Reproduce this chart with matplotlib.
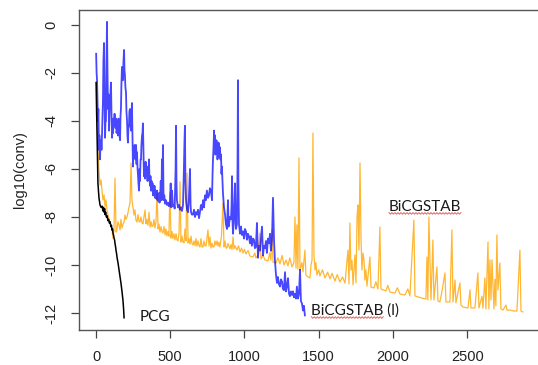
import numpy as np
import matplotlib
matplotlib.use("Agg")
import matplotlib.pyplot as plt
from matplotlib.transforms import IdentityTransform

plt.rcParams["axes.unicode_minus"] = False
plt.rcParams["font.family"] = ["Liberation Sans", "DejaVu Sans"]

# (iteration, log10 residual)
pcg_points = [
    (1, -2.4), (4, -3.6), (7, -4.5), (13, -6.6), (20, -7.2), (27, -7.5),
    (34, -7.6), (41, -7.55), (47, -7.75), (50, -7.6), (54, -7.8), (58, -7.65),
    (61, -7.9), (65, -7.8), (70, -8.0), (75, -7.95), (80, -8.15), (85, -8.1),
    (90, -8.25), (95, -8.2), (100, -8.4), (104, -8.35), (108, -8.55),
    (112, -8.5), (115, -8.7), (118, -8.75), (122, -8.9), (125, -8.95),
    (128, -9.1), (132, -9.25), (135, -9.4), (138, -9.5), (142, -9.7),
    (148, -9.9), (155, -10.2), (162, -10.5), (168, -10.75), (175, -11.1),
    (182, -11.5), (186, -11.85), (189, -12.2),
]

bicgl_points = [
    (1, -1.2), (4, -2.0), (7, -2.3), (10, -3.2), (13, -4.0), (16, -3.5),
    (20, -5.2), (23, -4.6), (27, -5.6), (30, -4.9), (34, -4.8), (37, -5.2),
    (40, -4.7), (44, -3.8), (47, -3.1), (50, -1.5), (54, -0.75), (57, -2.8),
    (61, -4.7), (64, -4.0), (67, -4.0), (70, -2.0), (74, 0.13), (77, -1.8),
    (81, -3.5), (84, -2.9), (88, -4.4), (91, -3.6), (94, -3.1), (97, -2.9),
    (101, -2.4), (104, -3.6), (108, -4.7), (112, -4.2), (115, -4.5),
    (118, -3.9), (121, -4.2), (125, -3.7), (128, -4.0), (132, -4.3),
    (135, -3.9), (138, -4.5), (141, -4.4), (145, -4.0), (148, -4.6),
    (151, -3.9), (155, -4.1), (158, -4.6), (162, -4.8), (165, -3.8),
    (168, -3.5), (171, -2.5), (175, -1.75), (178, -2.3), (182, -2.3),
    (185, -1.5), (189, -1.04), (192, -1.9), (195, -2.1), (198, -2.6),
    (202, -2.8), (205, -3.6), (209, -4.0), (212, -4.6), (215, -4.9),
    (218, -4.3), (222, -4.2), (225, -3.6), (229, -3.5), (232, -4.1),
    (236, -4.4), (239, -3.8), (242, -3.25), (246, -4.8), (249, -5.9),
    (253, -5.2), (256, -5.5), (260, -5.0), (263, -5.2), (266, -5.6),
    (270, -5.0), (273, -5.8), (276, -5.3), (280, -6.0), (283, -6.25),
    (286, -6.6), (290, -6.9), (293, -6.0), (296, -6.5), (300, -5.6),
    (303, -5.6), (306, -5.0), (310, -4.6), (313, -4.5), (316, -4.1),
    (320, -5.5), (323, -6.3), (327, -5.9), (330, -6.4), (334, -5.7),
    (337, -5.8), (340, -6.3), (343, -6.0), (347, -6.5), (350, -5.9),
    (354, -6.2), (357, -5.6), (360, -6.4), (364, -6.7), (367, -6.3),
    (370, -6.9), (374, -6.5), (377, -6.9), (381, -6.6), (384, -7.1),
    (388, -6.8), (391, -7.1), (394, -6.7), (398, -7.2), (401, -6.9),
    (404, -7.0), (408, -7.25), (411, -6.9), (414, -7.3), (418, -7.2),
    (421, -7.35), (424, -7.0), (428, -7.4), (431, -7.3), (436, -6.5),
    (441, -7.3), (444, -5.6), (448, -6.6), (451, -5.0), (455, -7.3),
    (460, -7.1), (465, -7.45), (471, -7.3), (478, -7.5), (485, -7.4),
    (491, -7.55), (498, -7.5), (503, -6.6), (507, -7.6), (512, -6.9),
    (518, -7.55), (525, -7.5), (530, -7.65), (536, -6.0), (539, -4.2),
    (542, -6.5), (545, -7.3), (552, -7.6), (559, -7.5), (565, -7.7),
    (572, -7.6), (579, -7.75), (586, -7.5), (592, -6.0), (596, -4.8),
    (599, -4.2), (602, -6.5), (606, -7.3), (613, -7.7), (620, -7.8),
    (626, -7.2), (633, -6.0), (637, -7.5), (640, -7.8), (646, -7.9),
    (653, -7.9), (660, -7.7), (667, -8.0), (673, -7.8), (680, -7.9),
    (687, -7.7), (694, -8.05), (700, -7.8), (707, -7.5), (714, -7.7),
    (721, -7.3), (727, -7.6), (734, -7.1), (740, -7.3), (747, -6.9),
    (754, -7.2), (761, -7.1), (767, -6.8), (774, -6.9), (781, -7.3),
    (785, -6.2), (788, -5.6), (792, -5.0), (795, -4.4), (798, -5.0),
    (801, -4.6), (804, -5.4), (808, -5.2), (811, -4.8), (815, -5.0),
    (818, -5.6), (822, -5.3), (825, -4.9), (828, -5.0), (832, -5.5),
    (835, -5.1), (838, -5.6), (842, -5.4), (845, -6.2), (848, -5.9),
    (852, -6.6), (855, -7.0), (862, -7.6), (869, -7.9), (875, -8.3),
    (882, -8.5), (889, -7.3), (893, -8.4), (896, -8.3), (902, -8.0),
    (909, -8.1), (913, -7.5), (916, -6.3), (920, -8.3), (923, -8.7),
    (929, -7.9), (936, -6.6), (940, -8.3), (943, -8.5), (949, -8.3),
    (953, -6.0), (956, -2.3), (959, -6.5), (963, -8.3), (970, -8.7),
    (976, -8.4), (983, -8.75), (990, -8.6), (997, -8.9), (1003, -8.5),
    (1010, -8.6), (1017, -8.95), (1023, -8.7), (1030, -8.8), (1037, -9.1),
    (1043, -8.8), (1050, -9.2), (1057, -8.9), (1064, -8.95), (1070, -9.3),
    (1077, -9.25), (1084, -8.25), (1091, -9.7), (1097, -9.2), (1104, -9.4),
    (1111, -8.9), (1118, -8.4), (1125, -9.6), (1131, -9.2), (1138, -9.3),
    (1145, -9.0), (1151, -9.5), (1158, -8.9), (1165, -9.1), (1172, -8.7),
    (1178, -9.4), (1185, -8.95), (1192, -7.2), (1199, -9.0), (1205, -9.8),
    (1212, -10.4), (1219, -10.75), (1225, -10.5), (1232, -10.8),
    (1239, -10.9), (1246, -10.6), (1253, -10.7), (1259, -11.0),
    (1266, -11.05), (1273, -10.3), (1279, -11.1), (1286, -10.9),
    (1293, -10.55), (1300, -11.2), (1306, -11.3), (1313, -11.1),
    (1320, -11.25), (1327, -11.1), (1333, -11.35), (1340, -11.2),
    (1347, -11.4), (1353, -10.9), (1360, -11.4), (1367, -11.2),
    (1374, -10.2), (1380, -11.5), (1387, -11.6), (1394, -11.9),
    (1400, -11.7), (1407, -12.1),
]

bicg_points = [
    (1, -2.38), (7, -3.96), (13, -5.21), (20, -6.04), (27, -6.67),
    (34, -6.46), (40, -6.88), (47, -7.29), (54, -7.08), (61, -7.58),
    (67, -7.29), (74, -7.71), (81, -7.92), (94, -8.21), (108, -8.54),
    (114, -8.88), (121, -8.54), (128, -6.38), (135, -8.63), (141, -8.54),
    (148, -8.2), (155, -8.33), (162, -8.54), (168, -8.1), (175, -8.46),
    (182, -8.3), (189, -8.21), (195, -7.92), (202, -8.1), (209, -8.0),
    (215, -7.83), (222, -7.6), (229, -7.42), (236, -5.75), (242, -7.29),
    (249, -7.6), (256, -7.92), (262, -7.7), (269, -8.13), (276, -8.21),
    (283, -7.9), (290, -8.2), (296, -8.21), (303, -8.0), (310, -8.25),
    (316, -8.29), (323, -8.0), (330, -7.71), (337, -8.29), (343, -8.1),
    (350, -8.35), (357, -7.8), (364, -8.42), (371, -8.2), (377, -8.4),
    (384, -8.38), (390, -8.1), (397, -8.46), (404, -8.2), (411, -7.0),
    (418, -8.5), (424, -8.3), (431, -8.63), (438, -8.4), (444, -8.6),
    (451, -8.67), (458, -8.4), (465, -8.75), (471, -8.5), (478, -8.79),
    (485, -8.6), (491, -8.8), (498, -6.96), (505, -8.88), (512, -8.6),
    (518, -8.9), (525, -8.7), (532, -8.96), (539, -8.7), (545, -8.95),
    (552, -9.0), (559, -8.7), (566, -6.54), (572, -9.04), (579, -8.8),
    (586, -9.05), (593, -9.08), (599, -8.5), (606, -9.0), (613, -6.17),
    (620, -9.08), (626, -8.9), (633, -9.13), (640, -8.8), (646, -9.1),
    (653, -9.17), (660, -9.0), (667, -9.2), (673, -8.9), (680, -9.21),
    (687, -9.0), (694, -9.2), (700, -9.25), (707, -8.9), (714, -9.25),
    (721, -9.25), (727, -9.0), (734, -9.2), (741, -9.21), (747, -8.9),
    (754, -8.54), (761, -9.21), (768, -8.83), (774, -9.29), (781, -9.1),
    (788, -9.25), (795, -9.25), (801, -9.0), (808, -9.17), (815, -9.0),
    (822, -9.21), (828, -9.05), (835, -9.25), (845, -8.8), (855, -7.42),
    (862, -9.25), (869, -9.0), (876, -9.3), (882, -9.29), (889, -9.1),
    (902, -9.33), (909, -9.15), (916, -9.35), (923, -8.83), (929, -9.33),
    (936, -9.2), (949, -9.38), (960, -9.2), (970, -9.46), (980, -9.3),
    (990, -9.5), (1000, -9.35), (1010, -9.54), (1024, -9.4), (1037, -9.63),
    (1057, -9.67), (1070, -9.5), (1077, -9.71), (1090, -9.6), (1104, -8.67),
    (1111, -9.75), (1125, -9.6), (1138, -9.79), (1158, -9.83), (1170, -9.5),
    (1178, -9.8), (1185, -8.54), (1192, -9.88), (1212, -9.92), (1225, -9.7),
    (1239, -9.96), (1253, -9.6), (1266, -10.0), (1280, -9.8), (1293, -10.04),
    (1305, -9.7), (1320, -10.08), (1333, -9.9), (1340, -8.0), (1347, -10.13),
    (1353, -8.33), (1360, -10.17), (1367, -5.54), (1374, -10.21),
    (1387, -9.9), (1394, -10.29), (1407, -9.38), (1414, -10.42),
    (1428, -10.5), (1441, -10.54), (1448, -10.0), (1455, -9.79),
    (1461, -4.5), (1468, -9.58), (1475, -10.21), (1481, -9.9),
    (1488, -10.42), (1500, -10.2), (1508, -10.46), (1525, -10.2),
    (1542, -10.54), (1560, -10.3), (1576, -10.58), (1590, -10.35),
    (1609, -10.67), (1625, -10.4), (1643, -10.71), (1660, -10.5),
    (1677, -10.75), (1697, -9.38), (1704, -10.79), (1710, -8.25),
    (1717, -10.21), (1724, -9.8), (1731, -10.83), (1744, -9.58),
    (1751, -10.75), (1758, -8.0), (1764, -7.5), (1771, -9.38),
    (1778, -5.75), (1785, -8.96), (1791, -10.21), (1798, -9.5),
    (1805, -9.79), (1811, -10.63), (1818, -10.2), (1825, -10.88),
    (1845, -9.67), (1852, -10.92), (1872, -10.96), (1885, -10.7),
    (1899, -11.0), (1912, -8.42), (1919, -11.0), (1933, -11.04),
    (1953, -11.08), (1965, -10.85), (1980, -11.13), (2013, -11.17),
    (2030, -10.95), (2047, -11.21), (2081, -11.25), (2100, -11.0),
    (2114, -11.29), (2141, -8.13), (2148, -11.29), (2168, -11.33),
    (2195, -11.38), (2222, -11.42), (2229, -9.67), (2235, -11.46),
    (2242, -8.0), (2249, -9.79), (2256, -11.46), (2262, -10.4),
    (2269, -8.96), (2276, -11.46), (2296, -10.08), (2303, -11.5),
    (2316, -11.54), (2330, -11.1), (2350, -10.33), (2357, -11.54),
    (2384, -11.54), (2397, -8.54), (2404, -11.54), (2418, -10.63),
    (2424, -11.58), (2451, -10.75), (2458, -11.67), (2471, -11.75),
    (2505, -11.79), (2519, -11.04), (2525, -11.79), (2552, -11.79),
    (2572, -10.33), (2579, -11.79), (2600, -11.3), (2606, -11.8),
    (2619, -10.54), (2626, -11.83), (2640, -9.04), (2646, -11.83),
    (2653, -9.79), (2660, -11.46), (2667, -9.79), (2680, -11.83),
    (2687, -10.6), (2693, -11.7), (2700, -8.75), (2707, -11.04),
    (2720, -9.92), (2727, -11.83), (2741, -11.88), (2761, -11.67),
    (2768, -11.88), (2788, -11.88), (2815, -11.92), (2835, -11.92),
    (2855, -9.38), (2862, -11.92), (2875, -11.96),
]

labels = ["PCG", "BiCGSTAB (l)", "BiCGSTAB"]
label_pos = [(296, -12.17), (1450, -11.92), (1973, -7.58)]

pcg_it, pcg_res = zip(*pcg_points)
bicgl_it, bicgl_res = zip(*bicgl_points)
bicg_it, bicg_res = zip(*bicg_points)

fig = plt.figure(figsize=(5.38, 3.65), dpi=100)
ax = fig.add_axes([79 / 538, 35 / 365, 462 / 538, 320.5 / 365])

ax.plot(bicg_it, bicg_res, color="#ffa500", lw=0.9, alpha=0.8)
ax.plot(bicgl_it, bicgl_res, color="#0000ff", lw=1.3, alpha=0.72)
ax.plot(pcg_it, pcg_res, color="black", lw=1.1)

ax.set_xlim(-114.5, 2997)
ax.set_ylim(-12.71, 0.646)
ax.set_xticks([0, 500, 1000, 1500, 2000, 2500])
ax.set_yticks([0, -2, -4, -6, -8, -10, -12])
ax.tick_params(direction="out", length=6, width=0.9, color="#444444",
               labelsize=10.5, pad=8.5, labelcolor="#222222")
for lab in ax.get_yticklabels():
    lab.set_rotation(90)
    lab.set_va("center")
for sp in ax.spines.values():
    sp.set_color("#555555")
    sp.set_linewidth(1.0)
ax.set_ylabel("log10(conv)", fontsize=10.5, color="#222222")
ax.yaxis.set_label_coords(-0.113, 0.5)

texts = []
for s, (x, y) in zip(labels, label_pos):
    t = ax.text(x, y, s, fontsize=11, family=["Lato", "DejaVu Sans"],
                color="#1a1a1a", va="center", ha="left")
    texts.append(t)

# red spell-check squiggles under the word BiCGSTAB
fig.canvas.draw()
for t in texts[1:]:
    probe = ax.text(*t.get_position(), "BiCGSTAB", fontsize=11,
                    family=["Lato", "DejaVu Sans"], va="center", ha="left",
                    alpha=0)
    bb = probe.get_window_extent(fig.canvas.get_renderer())
    xs = np.arange(bb.x0, bb.x1, 1.5)
    ys = bb.y0 + 0.5 + np.where(np.arange(len(xs)) % 2 == 0, 0.8, -0.8)
    ax.plot(xs, ys, color="#e03a3a", lw=0.7, alpha=0.8,
            transform=IdentityTransform(), clip_on=False)

fig.savefig("out.png", dpi=100)
